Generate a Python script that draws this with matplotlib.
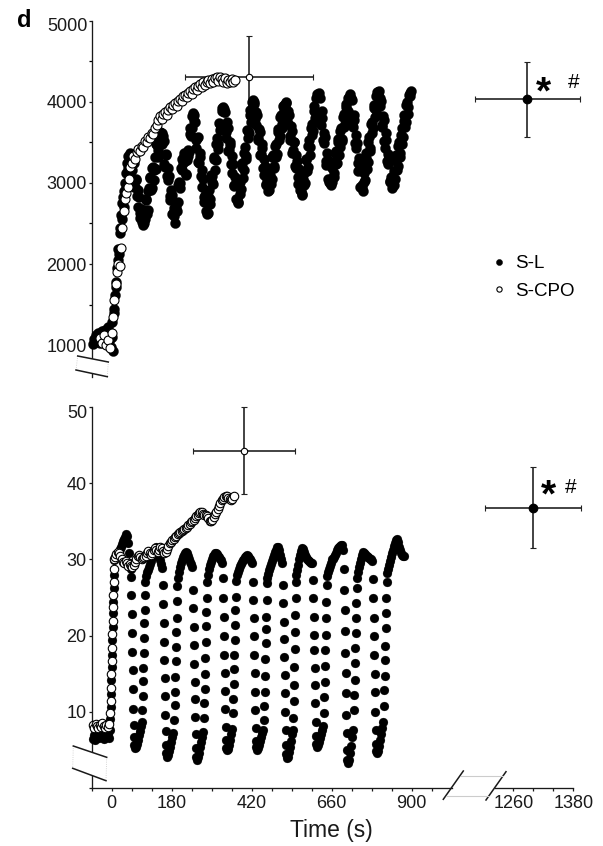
import matplotlib
matplotlib.use("Agg")
import matplotlib.pyplot as plt
from matplotlib.lines import Line2D
from matplotlib.patches import Polygon

plt.rcParams['font.family'] = ['Liberation Sans', 'DejaVu Sans']

# ======================= DATA =======================
# Upper panel, S-L (filled), time in s
top_sl_t = ([-57, -54, -51, -48, -45, -42, -39, -36, -33, -30, -27, -24, -21, -18, -15, -12, -9, -6, -3]
            + [0, 2, 4, 6, 8, 10, 12, 14, 16, 18, 20, 22, 24, 26, 28, 30, 32, 34, 36, 38, 40, 42, 44, 46, 48, 50, 52, 54]
            + list(range(58, 899, 4)))
top_sl_v = [1010, 1080, 1040, 1120, 1060, 1150, 1090, 1030, 1110, 1170, 1080, 1140, 1190, 1100, 1160, 1220, 1130, 1070, 980,
            1100, 1280, 930, 1450, 1390, 1620, 1780, 1720, 1950, 2050, 2180, 2120, 2380, 2450, 2600, 2560, 2750, 2820, 2700, 2900, 3000, 2940, 3120, 3250, 3180, 3330, 3260, 3370,
            3356, 3061, 3246, 2951, 3036, 2700, 2825, 2570, 2625, 2480,
            2504, 2787, 2611, 2895, 3068, 2912, 3186, 3040, 3323, 3477, 3321, 3564, 3548, 3620,
            3582, 3236, 3351, 3085, 3189, 2834, 2918, 2612, 2686, 2500,
            2700, 2760, 3010, 3000, 3290, 3250, 3330, 3100, 3280, 3330, 3600, 3580, 3820, 3760,
            3757, 3432, 3567, 3242, 3316, 2951, 3046, 2761, 2766, 2620,
            2839, 2738, 3098, 3007, 3296, 3155, 3474, 3414, 3733, 3652, 3891, 3940, 3880,
            3630, 3745, 3390, 3505, 3230, 3335, 2980, 3076, 2801, 2760,
            2953, 2864, 3196, 3057, 3368, 3299, 3650, 3551, 3842, 3753, 3994, 4000,
            3783, 3876, 3548, 3660, 3343, 3475, 3188, 3300, 2982, 3045, 2900,
            3095, 2990, 3314, 3178, 3453, 3317, 3631, 3526, 3810, 3675, 3949, 3913, 3990,
            3764, 3886, 3579, 3701, 3374, 3506, 3208, 3341, 3073, 3176, 2918, 2860,
            3048, 2972, 3286, 3150, 3455, 3349, 3683, 3587, 3881, 3805, 4050, 4074, 4110,
            3807, 3890, 3532, 3615, 3268, 3371, 3044, 3046, 2970,
            3184, 3068, 3371, 3235, 3509, 3342, 3636, 3520, 3813, 3687, 3941, 3824, 4048, 4052,
            4053, 3740, 3840, 3490, 3590, 3240, 3310, 2950, 2970, 2900,
            3010, 3303, 3176, 3499, 3391, 3724, 3617, 3920, 3813, 4076, 4098, 4130,
            4046, 3712, 3828, 3514, 3620, 3266, 3352, 3028, 3074, 2940,
            3147, 3043, 3348, 3204, 3499, 3365, 3681, 3566, 3842, 3747, 4003, 3938, 4114, 4130]
# intermediate samples of the same S-L trace
top_sl_t2 = list(range(60, 897, 4))
top_sl_v2 = [3164, 3269, 2944, 3049, 2843, 2918, 2623, 2678, 2513,
             2662, 2555, 2799, 2663, 2936, 3060, 2934, 3198, 3161, 3175, 3469, 3403, 3626, 3610,
             3484, 3519, 3193, 3338, 3032, 3086, 2791, 2845, 2630, 2594,
             2650, 2650, 2980, 2935, 3180, 3155, 3365, 3265, 3105, 3410, 3380, 3675, 3675, 3860,
             3835, 3530, 3555, 3259, 3364, 3089, 3164, 2828, 2853, 2648,
             2635, 2914, 2803, 3082, 2992, 3321, 3280, 3559, 3478, 3728, 3677, 3926, 3910,
             3873, 3558, 3683, 3408, 3463, 3128, 3233, 2958, 3003, 2798,
             2748, 3009, 2920, 3241, 3162, 3443, 3334, 3645, 3617, 3898, 3819, 4020,
             3972, 3715, 3837, 3530, 3632, 3354, 3427, 3099, 3212, 2974, 2966,
             2913, 3167, 3052, 3346, 3211, 3475, 3359, 3664, 3578, 3843, 3727, 3961, 3965,
             3997, 3730, 3842, 3525, 3637, 3400, 3502, 3184, 3267, 2989, 3102, 2894,
             2846, 3120, 3004, 3298, 3192, 3527, 3441, 3725, 3639, 3953, 3867, 4092, 4090,
             4041, 3714, 3806, 3489, 3572, 3215, 3287, 3010, 2995,
             3007, 3261, 3124, 3388, 3242, 3545, 3439, 3673, 3546, 3850, 3724, 3977, 3891, 4065,
             4100, 4028, 3685, 3775, 3435, 3495, 3145, 3215, 2955, 2940,
             3128, 3031, 3364, 3257, 3560, 3433, 3756, 3678, 3961, 3894, 4117, 4125,
             3943, 4009, 3685, 3771, 3427, 3533, 3229, 3325, 3011, 3017,
             3063, 2969, 3264, 3160, 3456, 3321, 3587, 3482, 3768, 3693, 3959, 3855, 4080, 4076]

# Upper panel, S-CPO (open)
top_cpo_t = ([-34, -28, -22, -16, -10, -5]
             + [0, 4, 8, 12, 16, 20, 24, 28, 32, 36, 40, 44, 48, 52, 56]
             + list(range(60, 371, 5)))
top_cpo_v = [1090, 1030, 1120, 1000, 1060, 970,
             1150, 1350, 1560, 1750, 1900, 2000, 1980, 2200, 2450, 2650, 2800, 2880, 2950, 3050, 3200,
             3250, 3330, 3290, 3380, 3420, 3390, 3460, 3440, 3520, 3500,
             3570, 3550, 3620, 3600, 3680, 3720, 3780, 3820, 3790, 3850,
             3880, 3840, 3900, 3930, 3910, 3960, 3990, 3950, 4010, 4040,
             4010, 4070, 4090, 4060, 4110, 4130, 4100, 4160, 4180, 4150,
             4200, 4220, 4180, 4240, 4210, 4250, 4270, 4230, 4280, 4250,
             4290, 4300, 4260, 4310, 4280, 4250, 4290, 4230, 4270, 4240,
             4280, 4250, 4270]

# Lower panel, S-L (filled)
bot_sl_t = [-57, -54, -51, -48, -45, -42, -39, -36, -33, -30, -27, -24, -21, -18, -15, -12, -9, -6,
            -4, -3, -2, -1, 0, 1, 2, 3, 4, 5, 6, 7,
            8, 11, 14, 17, 20, 23, 26, 29, 32, 35, 38, 41, 44, 47, 50, 53, 55, 57,
            58, 59, 60, 61, 62, 63, 64, 65, 66, 67, 68, 71, 74, 77, 80, 83, 86, 89, 91, 92, 93, 94, 95, 96, 97, 98, 99, 100,
            101, 104, 107, 110, 113, 116, 119, 122, 125, 128, 131, 134, 137, 140, 143, 146, 149, 152,
            154, 155, 156, 157, 158, 159, 160, 161, 162, 163, 164, 167, 170, 173, 176, 179, 182, 185, 188, 189, 190, 191, 192, 193, 194, 195, 196,
            197, 200, 203, 206, 209, 212, 215, 218, 221, 224, 227, 230, 233, 236, 239, 242,
            244, 245, 246, 247, 248, 249, 250, 251, 252, 253, 254, 257, 260, 263, 266, 269, 272, 275, 277, 278, 279, 280, 281, 282, 283, 284, 285,
            286, 289, 292, 295, 298, 301, 304, 307, 310, 313, 316, 319, 322, 325, 328, 331,
            334, 335, 336, 337, 338, 339, 340, 341, 342, 343, 344, 347, 350, 353, 356, 359, 362, 364, 365, 366, 367, 368, 369, 370, 371, 372,
            373, 376, 379, 382, 385, 388, 391, 394, 397, 400, 403, 406, 409, 412, 415, 418, 421,
            424, 425, 426, 427, 428, 429, 430, 431, 432, 433, 434, 437, 440, 443, 446, 449, 452, 455, 457, 458, 459, 460, 461, 462, 463, 464, 465, 466,
            467, 470, 473, 476, 479, 482, 485, 488, 491, 494, 497, 500, 503, 506, 509, 512,
            514, 515, 516, 517, 518, 519, 520, 521, 522, 523, 524, 527, 530, 533, 536, 539, 542, 544, 545, 546, 547, 548, 549, 550, 551, 552, 553,
            554, 557, 560, 563, 566, 569, 572, 575, 578, 581, 584, 587, 590, 593, 596, 599, 602,
            604, 605, 606, 607, 608, 609, 610, 611, 612, 613, 614, 617, 620, 623, 626, 629, 632, 635, 637, 638, 639, 640, 641, 642, 643, 644, 645,
            646, 649, 652, 655, 658, 661, 664, 667, 670, 673, 676, 679, 682, 685, 688, 691, 694,
            697, 698, 699, 700, 701, 702, 703, 704, 705, 706, 707, 710, 713, 716, 719, 722, 725, 727, 728, 729, 730, 731, 732, 733, 734, 735,
            736, 739, 742, 745, 748, 751, 754, 757, 760, 763, 766, 769, 772, 775, 778, 781,
            784, 785, 786, 787, 788, 789, 790, 791, 792, 793, 794, 797, 800, 803, 806, 809, 812, 815, 817, 818, 819, 820, 821, 822, 823, 824, 825,
            826, 829, 832, 835, 838, 841, 844, 847, 850, 853, 856, 859, 862, 865, 868, 871, 874, 877]
bot_sl_v = [6.4, 6.9, 6.3, 7.0, 6.6, 7.2, 6.5, 6.8, 7.3, 6.6, 7.0, 6.4, 6.9, 7.4, 6.7, 7.1, 6.5, 7.6,
            9.0, 10.6, 12.3, 14.1, 15.8, 17.4, 19.4, 21.1, 22.9, 24.4, 26.2, 27.9,
            29.9, 30.2, 30.5, 30.3, 30.7, 31.0, 31.4, 31.7, 32.0, 32.4, 32.7, 33.0, 33.3, 33.1, 32.2, 30.8, 29.6, 28.7,
            27.7, 25.3, 22.8, 20.3, 17.9, 15.5, 13.0, 10.4, 8.2, 6.6, 5.6, 5.2, 5.4, 5.8, 6.3, 6.9, 7.5, 8.1, 8.6,
            10.2, 12.1, 14.0, 15.7, 17.7, 19.7, 21.6, 23.4, 25.3,
            27.0, 27.8, 28.3, 28.6, 29.0, 29.4, 29.8, 30.3, 30.7, 31.0, 31.3, 31.6, 31.4, 30.9, 30.3, 29.9, 29.4, 28.9,
            26.6, 24.2, 21.7, 19.2, 16.8, 14.4, 12.0, 9.6, 7.4, 5.6, 4.6, 4.1, 4.3, 4.8, 5.4, 6.0, 6.6, 7.2,
            8.9, 10.9, 12.6, 14.6, 16.6, 18.5, 20.4, 22.3, 24.5,
            26.5, 27.6, 28.4, 29.0, 29.5, 29.9, 30.3, 30.6, 30.8, 31.0, 30.9, 30.4, 30.0, 29.7, 29.4, 29.0,
            26.0, 23.6, 21.1, 18.7, 16.3, 13.9, 11.6, 9.3, 7.0, 5.2, 4.1, 3.7, 4.0, 4.6, 5.3, 6.0, 6.7, 7.3,
            9.1, 11.1, 13.0, 15.0, 17.0, 19.2, 21.2, 23.1, 24.9,
            27.0, 28.0, 28.7, 29.3, 29.7, 30.1, 30.4, 30.6, 30.8, 30.9, 30.7, 30.5, 30.3, 30.1, 29.9, 29.6,
            27.5, 24.9, 22.5, 20.0, 17.5, 15.1, 12.7, 10.3, 8.0, 6.3, 5.2, 4.9, 5.1, 5.6, 6.3, 7.0, 7.7,
            9.8, 11.7, 13.6, 15.6, 17.4, 19.4, 21.4, 23.4, 25.1,
            27.2, 27.9, 28.3, 28.8, 29.1, 29.4, 29.7, 29.9, 30.1, 30.3, 30.5, 30.6, 30.4, 30.2, 30.0, 29.8, 29.6,
            27.1, 24.7, 22.3, 19.9, 17.4, 15.1, 12.6, 10.2, 7.8, 6.2, 5.3, 5.0, 5.2, 5.6, 6.1, 6.7, 7.2, 7.6,
            8.9, 10.7, 12.6, 14.7, 16.9, 19.0, 20.8, 22.5, 24.7, 26.9,
            27.6, 28.1, 28.6, 29.0, 29.4, 29.8, 30.2, 30.6, 31.0, 31.3, 31.6, 31.7, 31.2, 30.6, 30.0, 29.6,
            26.6, 24.3, 21.8, 19.5, 17.2, 14.8, 12.4, 10.0, 7.6, 5.6, 4.4, 3.9, 4.1, 4.7, 5.4, 6.2, 7.0, 7.6,
            9.2, 11.4, 13.5, 15.9, 18.2, 20.4, 22.7, 24.9, 27.1,
            28.0, 28.6, 29.3, 30.0, 30.6, 31.1, 31.5, 31.4, 31.0, 30.6, 30.3, 30.1, 29.9, 29.8, 29.7, 29.6, 29.5,
            27.3, 24.9, 22.5, 20.1, 18.1, 15.7, 13.5, 11.1, 8.7, 6.8, 5.7, 5.4, 5.6, 6.0, 6.5, 7.0, 7.6, 8.1,
            9.8, 11.9, 13.9, 16.0, 18.1, 20.1, 22.3, 24.4, 26.6,
            27.8, 28.4, 28.8, 29.2, 29.6, 30.0, 30.1, 30.3, 30.6, 30.9, 31.2, 31.5, 31.7, 31.8, 31.9, 31.9, 31.3,
            28.7, 26.0, 23.4, 20.6, 17.7, 15.1, 12.4, 9.6, 7.2, 5.0, 3.6, 3.2, 3.6, 4.5, 5.5, 6.6, 7.6,
            10.2, 12.2, 14.2, 16.4, 18.3, 20.3, 22.3, 24.3, 26.3,
            27.6, 28.4, 29.0, 29.6, 30.1, 30.6, 31.0, 30.9, 30.7, 30.5, 30.4, 30.3, 30.2, 30.1, 30.0, 29.8,
            27.4, 24.9, 22.3, 19.9, 17.4, 15.0, 12.6, 10.0, 7.6, 5.8, 4.8, 4.5, 4.8, 5.5, 6.3, 7.1, 7.9, 8.6,
            10.7, 12.8, 14.7, 16.8, 18.6, 21.0, 22.9, 24.9, 27.1,
            28.2, 28.8, 29.3, 29.8, 30.3, 30.8, 31.3, 31.8, 32.2, 32.6, 32.7, 32.3, 31.7, 31.2, 30.8, 30.6, 30.5, 30.4]

# Lower panel, S-CPO (open)
bot_cpo_t = ([-56, -52, -48, -44, -40, -36, -32, -28, -24, -20, -16, -12, -8]
             + [-4, -3, -2, -1, 0, 1, 2, 3, 4, 5, 6, 7, 8]
             + list(range(10, 367, 4)))
bot_cpo_v = [8.2, 7.9, 8.4, 8.1, 7.8, 8.3, 8.0, 8.5, 8.1, 7.9, 8.3, 8.0, 8.4,
             9.8, 11.4, 13.1, 14.9, 16.6, 18.3, 20.2, 21.9, 23.7, 25.3, 27.0, 28.8, 30.0,
             30.3, 30.7, 31.0, 30.8, 30.4, 30.0, 29.7, 29.5, 29.8, 29.5, 29.2, 29.4, 29.2, 29.0, 29.3, 29.7, 30.1, 30.4, 30.6, 30.3, 30.0, 30.2, 30.3,
             30.4, 30.8, 31.1, 30.9, 30.6, 30.9, 31.2, 31.5, 31.3, 31.0,
             31.3, 31.7, 31.5, 31.1, 30.8, 31.0, 31.4, 31.8, 32.1, 32.3,
             32.5, 32.7, 32.9, 33.1, 33.3, 33.5, 33.6, 33.7, 33.9, 34.0,
             34.2, 34.3, 34.5, 34.7, 34.9, 35.0, 35.2, 35.4, 35.7, 35.9,
             36.1, 36.3, 36.2, 36.0, 35.9, 35.8, 35.7, 35.4, 35.1, 35.0,
             35.2, 35.6, 36.0, 36.3, 36.6, 37.0, 37.4, 37.8, 38.0, 38.2,
             38.3, 38.3, 38.1, 37.9, 37.8, 38.0, 38.4]

# Means +/- SD : [S-CPO, S-L]
top_mean_t = [412, 1288]
top_mean_v = [4306, 4031]
top_mean_terr = [191, 105]
top_mean_verr = [505, 462]
bot_mean_t = [397, 1299]
bot_mean_v = [44.3, 36.8]
bot_mean_terr = [153, 96]
bot_mean_verr = [5.7, 5.35]

top_yticks = [1000, 2000, 3000, 4000, 5000]
top_yminor = [1500, 2500, 3500, 4500]
bot_yticks = [0, 10, 20, 30, 40, 50]
x_labelled = [0, 180, 420, 660, 900]
x_right_ticks = [1260, 1300, 1340, 1380]
x_right_labelled = [1260, 1380]
legend_labels = ['S-L', 'S-CPO']

# ======================= LAYOUT =======================
FW, FH = 603, 846
def fx(x): return x / FW
def fy(y): return 1 - y / FH

fig = plt.figure(figsize=(FW / 100, FH / 100), dpi=100)

def add_axes_px(x0, x1, ytop, ybot):
    ax = fig.add_axes([fx(x0), fy(ybot), (x1 - x0) / FW, (ybot - ytop) / FH])
    ax.patch.set_visible(False)
    return ax

X0 = 111.7              # pixel of t = 0
LX0, LX1 = 91.7, 451.5  # left section
RX0, RX1 = 460, 600     # right section (0.5 px/s, 1260 s at 513.3 px)
left_xlim = ((LX0 - X0) * 3, (LX1 - X0) * 3)
right_xlim = (1260 + (RX0 - 513.3) * 2, 1260 + (RX1 - 513.3) * 2)

TOP_Y0, TOP_Y1 = 20.7, 377.0
top_ylim = (5000 - (TOP_Y1 - TOP_Y0) * 1000 / 81.1, 5000)
BOT_Y0, BOT_Y1 = 407.3, 787.7

axT = add_axes_px(LX0, LX1, TOP_Y0, TOP_Y1)
axTR = add_axes_px(RX0, RX1, TOP_Y0, TOP_Y1)
axB = add_axes_px(LX0, LX1, BOT_Y0, BOT_Y1)
axBR = add_axes_px(RX0, RX1, BOT_Y0, BOT_Y1)

for ax in (axT, axTR):
    ax.set_ylim(*top_ylim)
for ax in (axB, axBR):
    ax.set_ylim(0, 50)
for ax in (axT, axB):
    ax.set_xlim(*left_xlim)
for ax in (axTR, axBR):
    ax.set_xlim(*right_xlim)

INK = '#1a1a1a'
TICKFS = 13

def style_common(ax):
    for s in ax.spines.values():
        s.set_color(INK)
        s.set_linewidth(0.95)
    ax.tick_params(direction='out', length=2.4, width=0.9, colors=INK, labelsize=TICKFS)

for ax in (axT, axTR, axB, axBR):
    style_common(ax)

# upper left axes: only y-axis
axT.spines[['top', 'right', 'bottom']].set_visible(False)
axT.set_xticks([])
axT.set_yticks(top_yticks, ['' if v == 5000 else str(v) for v in top_yticks])
axT.set_yticks(top_yminor, minor=True)
axT.tick_params(axis='y', which='both', length=2.4, width=0.9, pad=1.2)
axT.annotate('5000', xy=(0, 5000), xycoords=('axes fraction', 'data'), xytext=(-3.2, 2.0),
             textcoords='offset points', ha='right', va='top', fontsize=TICKFS, color=INK)
axTR.axis('off')

# lower left axes
axB.spines[['top', 'right']].set_visible(False)
xt = list(range(-60, 961, 60))
axB.set_xticks(xt, [str(t) if t in x_labelled else '' for t in xt])
axB.set_yticks(bot_yticks, ['' if v in (0, 50) else str(v) for v in bot_yticks])
axB.tick_params(axis='y', pad=1.2)
axB.tick_params(axis='x', pad=2.6)
axB.annotate('50', xy=(0, 50), xycoords=('axes fraction', 'data'), xytext=(-3.2, 2.0),
             textcoords='offset points', ha='right', va='top', fontsize=TICKFS, color=INK)

# lower right axes: x axis only
axBR.spines[['top', 'right', 'left']].set_visible(False)
axBR.spines['bottom'].set_bounds(1260 + (494.7 - 513.3) * 2, 1380)
axBR.set_yticks([])
axBR.set_xticks(x_right_ticks, [str(t) if t in x_right_labelled else '' for t in x_right_ticks])
axBR.tick_params(axis='x', pad=2.6)

# ======================= MARKS =======================
MS = 6.4
def dots(ax, t, v, filled, ms=MS):
    if filled:
        ax.plot(t, v, ls='none', marker='o', ms=ms, mfc='black', mec='black', mew=0.2,
                clip_on=False, zorder=3)
    else:
        ax.plot(t, v, ls='none', marker='o', ms=ms - 0.3, mfc='white', mec='black', mew=0.8,
                clip_on=False, zorder=4)

def mean_point(ax, t, v, te, ve, filled):
    ax.errorbar([t], [v], xerr=[te], yerr=[ve], fmt='o',
                ms=6.2 if filled else 4.6,
                mfc='black' if filled else 'white', mec='black', mew=0.8,
                ecolor='#222222', elinewidth=1.2, capsize=2.3, capthick=1.0,
                clip_on=False, zorder=2)

mean_point(axT, top_mean_t[0], top_mean_v[0], top_mean_terr[0], top_mean_verr[0], False)
mean_point(axTR, top_mean_t[1], top_mean_v[1], top_mean_terr[1], top_mean_verr[1], True)
mean_point(axB, bot_mean_t[0], bot_mean_v[0], bot_mean_terr[0], bot_mean_verr[0], False)
mean_point(axBR, bot_mean_t[1], bot_mean_v[1], bot_mean_terr[1], bot_mean_verr[1], True)

dots(axT, top_sl_t, top_sl_v, True, ms=7.3)
dots(axT, top_sl_t2, top_sl_v2, True, ms=7.3)
dots(axT, top_cpo_t, top_cpo_v, False, ms=6.8)
dots(axB, bot_sl_t, bot_sl_v, True)
dots(axB, bot_cpo_t, bot_cpo_v, False)

# ======================= DECORATIONS =======================
def fig_line(xs, ys, **kw):
    fig.add_artist(Line2D([fx(x) for x in xs], [fy(y) for y in ys],
                          transform=fig.transFigure, **kw))

def y_break(p1, p2, p3, p4):
    fig.add_artist(Polygon([(fx(x), fy(y)) for x, y in (p1, p2, p3, p4)], closed=True,
                           transform=fig.transFigure, facecolor='white', edgecolor='none', zorder=5))
    fig_line([p1[0], p4[0]], [p1[1], p4[1]], color='#c8c8c8', lw=0.6, ls=':', zorder=6)
    fig_line([p2[0], p3[0]], [p2[1], p3[1]], color='#c8c8c8', lw=0.6, ls=':', zorder=6)
    fig_line([p1[0], p2[0]], [p1[1], p2[1]], color=INK, lw=1.1, zorder=6)
    fig_line([p4[0], p3[0]], [p4[1], p3[1]], color=INK, lw=1.1, zorder=6)

y_break((77.7, 356.0), (108.3, 362.0), (107.3, 376.7), (76.0, 370.0))
y_break((73.3, 746.0), (106.7, 757.3), (106.0, 780.7), (72.7, 768.3))

# x-axis break
fig_line([443.3, 463.3], [799.3, 771.0], color=INK, lw=1.1, zorder=6)
fig_line([486.0, 506.0], [800.0, 771.7], color=INK, lw=1.1, zorder=6)
fig_line([461.0, 503.0], [776.0, 776.0], color='#cccccc', lw=0.8, zorder=6)
fig_line([446.0, 489.0], [796.0, 796.0], color='#cccccc', lw=0.8, zorder=6)

# legend
h1 = Line2D([], [], ls='none', marker='o', ms=4.4, mfc='black', mec='black', mew=0.3)
h2 = Line2D([], [], ls='none', marker='o', ms=3.8, mfc='white', mec='black', mew=0.8)
fig.legend([h1, h2], legend_labels, loc='upper left', bbox_to_anchor=(fx(491.5), fy(255)),
           frameon=False, fontsize=13.5, handlelength=0.8, handletextpad=0.45,
           borderpad=0, borderaxespad=0, labelspacing=0.55)

# significance marks
fig.text(fx(543), fy(103), '*', ha='center', va='baseline', fontsize=28, fontweight='bold', color='black')
fig.text(fx(574), fy(88), '#', ha='center', va='baseline', fontsize=15, color='black')
fig.text(fx(548.5), fy(506.5), '*', ha='center', va='baseline', fontsize=28, fontweight='bold', color='black')
fig.text(fx(571), fy(493), '#', ha='center', va='baseline', fontsize=15, color='black')

# labels
fig.text(fx(331), fy(836.7), 'Time (s)', ha='center', va='baseline', fontsize=16.5, color=INK)
fig.text(fx(16.5), fy(26.7), 'd', ha='left', va='baseline', fontsize=17, fontweight='bold', color='black')

fig.savefig('out.png', dpi=100)
